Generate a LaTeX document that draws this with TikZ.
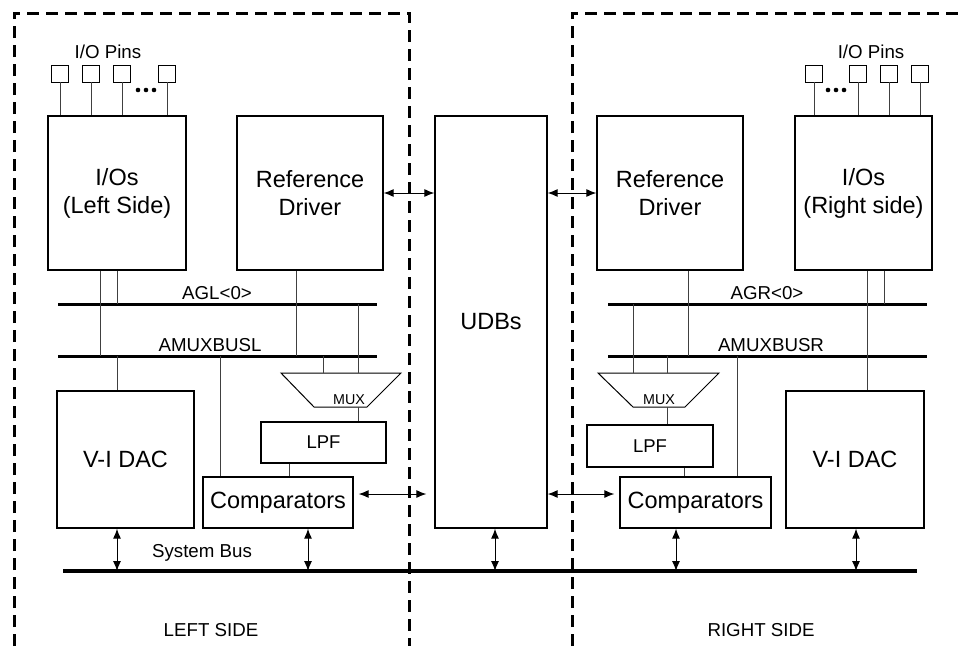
\documentclass[tikz,border=0pt]{standalone}
\usepackage{fontspec}
\setmainfont{Liberation Sans}
\usetikzlibrary{arrows.meta}
\begin{document}
\begin{tikzpicture}[x=1pt,y=-1pt,
  blk/.style={draw,line width=1.3pt,inner sep=0pt,align=center,font=\fontsize{23.5}{28}\selectfont},
  pin/.style={draw,line width=.9pt,minimum size=17pt,inner sep=0pt},
  wire/.style={line width=.9pt,black!75},
  bus/.style={line width=3pt},
  dual/.style={line width=1pt,{Latex[length=10pt,width=8pt]}-{Latex[length=10pt,width=8pt]}},
  side/.style={line width=3pt,dash pattern=on 12pt off 7pt},
  lbl/.style={inner sep=0pt,font=\fontsize{18.7}{22}\selectfont}]
  \useasboundingbox (0,0) rectangle (960,646);
  % left and right sides
  \draw[side] (14,646) -- (14,13) -- (409,13) -- (409,646);
  \draw[side] (572,646) -- (572,13) -- (960,13);
  % upper blocks
  \node[blk,minimum width=138pt,minimum height=154pt] (ioL) at (117,193) {I/Os\\(Left Side)};
  \node[blk,minimum width=146pt,minimum height=154pt] (refL) at (310,193) {Reference\\Driver};
  \node[blk,minimum width=112pt,minimum height=412pt] (udb) at (491,322) {UDBs};
  \node[blk,minimum width=146pt,minimum height=154pt] (refR) at (670,193) {Reference\\Driver};
  \node[blk,minimum width=137pt,minimum height=154pt] (ioR) at (863.5,193) {I/Os\\(Right side)};
  % lower blocks
  \node[blk,minimum width=137pt,minimum height=137pt] (dacL) at (125.5,459.5) {V-I DAC};
  \node[blk,minimum width=150pt,minimum height=51pt] (cmpL) at (278,502.5) {Comparators};
  \node[blk,minimum width=125pt,minimum height=41pt,font=\fontsize{18.5}{22}\selectfont] (lpfL) at (323.5,442.5) {LPF};
  \node[blk,minimum width=151pt,minimum height=51pt] (cmpR) at (695.5,502.5) {Comparators};
  \node[blk,minimum width=126pt,minimum height=42pt,font=\fontsize{18.5}{22}\selectfont] (lpfR) at (650,446) {LPF};
  \node[blk,minimum width=138pt,minimum height=137pt] (dacR) at (855,459.5) {V-I DAC};
  % pins
  \foreach \x [count=\i] in {60,91,122,167}{
    \node[pin] (pL\i) at (\x,73.5) {};
    \draw[wire] (pL\i.south) -- (pL\i.south |- ioL.north);}
  \foreach \x [count=\i] in {814,858,889,920}{
    \node[pin] (pR\i) at (\x,73.5) {};
    \draw[wire] (pR\i.south) -- (pR\i.south |- ioR.north);}
  \foreach \x in {138,146,154,828,836,844} \fill (\x,90) circle (2.3);
  \node[lbl] (pinsL) at (108,52) {I/O Pins};
  \node[lbl] (pinsR) at (871,52) {I/O Pins};
  % analog buses
  \coordinate (aglL) at (58,304); \coordinate (aglL2) at (377,304);
  \coordinate (amuxL) at (58,356); \coordinate (amuxL2) at (377,356);
  \coordinate (agrR) at (608,304); \coordinate (agrR2) at (927,304);
  \coordinate (amuxR) at (608,356); \coordinate (amuxR2) at (927,356);
  \draw[bus] (aglL) -- (aglL2); \draw[bus] (amuxL) -- (amuxL2);
  \draw[bus] (agrR) -- (agrR2); \draw[bus] (amuxR) -- (amuxR2);
  \node[lbl] (aglT) at (217,293) {AGL<0>};
  \node[lbl] (amuxLT) at (210,345) {AMUXBUSL};
  \node[lbl] (agrT) at (767,293) {AGR<0>};
  \node[lbl] (amuxRT) at (771,345) {AMUXBUSR};
  % muxes
  \draw[line width=1pt] (281,373) -- (401,373) -- (367,407) -- (314,407) -- cycle;
  \draw[line width=1pt] (598,373) -- (719,373) -- (685,407) -- (633,407) -- cycle;
  \node[inner sep=0pt,font=\fontsize{14.3}{16}\selectfont] (muxLT) at (349,400) {MUX};
  \node[inner sep=0pt,font=\fontsize{14.3}{16}\selectfont] (muxRT) at (659,400) {MUX};
  \coordinate (muxLa) at (323,373); \coordinate (muxLb) at (358,373); \coordinate (muxLo) at (358,407);
  \coordinate (muxRa) at (633,373); \coordinate (muxRb) at (667,373); \coordinate (muxRo) at (667,407);
  % left side wiring
  \draw[wire] ([xshift=-17]ioL.south) -- ([xshift=-17]ioL.south |- amuxL);
  \draw[wire] (ioL.south) -- (ioL.south |- aglL);
  \draw[wire] (ioL.south |- amuxL) -- (ioL.south |- dacL.north);
  \draw[wire] ([xshift=-14]refL.south) -- ([xshift=-14]refL.south |- amuxL);
  \draw[wire] (muxLa |- amuxL) -- (muxLa);
  \draw[wire] (muxLb |- aglL) -- (muxLb);
  \draw[wire] (muxLo) -- (muxLo |- lpfL.north);
  \draw[wire] ([xshift=-34.5]lpfL.south) -- ([xshift=-34.5]lpfL.south |- cmpL.north);
  \draw[wire] ([xshift=-58]cmpL.north |- amuxL) -- ([xshift=-58]cmpL.north);
  % right side wiring
  \draw[wire] ([xshift=3.5]ioR.south) -- ([xshift=3.5]ioR.south |- amuxR);
  \draw[wire] ([xshift=20.5]ioR.south) -- ([xshift=20.5]ioR.south |- agrR);
  \draw[wire] ([xshift=12]dacR.north |- amuxR) -- ([xshift=12]dacR.north);
  \draw[wire] ([xshift=18]refR.south) -- ([xshift=18]refR.south |- amuxR);
  \draw[wire] (muxRa |- agrR) -- (muxRa);
  \draw[wire] (muxRb |- amuxR) -- (muxRb);
  \draw[wire] (muxRo) -- (muxRo |- lpfR.north);
  \draw[wire] ([xshift=34]lpfR.south) -- ([xshift=34]lpfR.south |- cmpR.north);
  \draw[wire] ([xshift=41.5]cmpR.north |- amuxR) -- ([xshift=41.5]cmpR.north);
  % links to the UDBs
  \draw[dual] (refL.east) -- (refL.east -| udb.west);
  \draw[dual] (refR.west -| udb.east) -- (refR.west);
  \draw[dual,shorten <=5pt,shorten >=8pt] ([yshift=8.5]cmpL.east) -- ([yshift=8.5]cmpL.east -| udb.west);
  \draw[dual,shorten >=5pt] ([yshift=8.5]cmpR.west -| udb.east) -- ([yshift=8.5]cmpR.west);
  % system bus
  \coordinate (sysA) at (63,571); \coordinate (sysB) at (917,571);
  \draw[line width=3.5pt] (sysA) -- (sysB);
  \node[lbl] (sysT) at (202,553) {System Bus};
  \draw[dual] ([xshift=-8.5]dacL.south) -- ([xshift=-8.5]dacL.south |- sysA);
  \draw[dual] ([xshift=30]cmpL.south) -- ([xshift=30]cmpL.south |- sysA);
  \draw[dual] ([xshift=4]udb.south) -- ([xshift=4]udb.south |- sysA);
  \draw[dual] ([xshift=-19.5]cmpR.south) -- ([xshift=-19.5]cmpR.south |- sysA);
  \draw[dual] ([xshift=1]dacR.south) -- ([xshift=1]dacR.south |- sysA);
  \node[lbl] (leftT) at (211,630) {LEFT SIDE};
  \node[lbl] (rightT) at (761,630) {RIGHT SIDE};
\end{tikzpicture}
\end{document}
